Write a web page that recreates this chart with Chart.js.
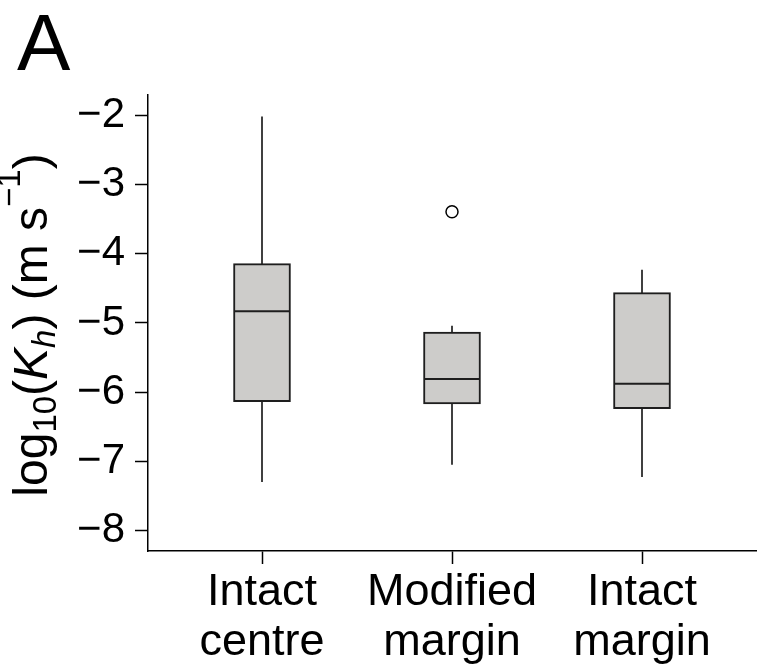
<!DOCTYPE html>
<html>
<head>
<meta charset="utf-8">
<script src="https://cdn.jsdelivr.net/npm/chart.js@4.4.1/dist/chart.umd.min.js"></script>
<style>
  body { margin: 0; background: #fff; }
  #wrap { width: 757px; height: 667px; }
</style>
</head>
<body>
<div id="wrap"><canvas id="chart"></canvas></div>
<script>
// boxplot summary per site, log10 of Kh
const categories    = [['Intact', 'centre'], ['Modified', 'margin'], ['Intact', 'margin']];
const whiskerLow    = [-7.30, -7.05, -7.23];
const lowerQuartile = [-6.14, -6.17, -6.24];
const medians       = [-4.83, -5.81, -5.88];
const upperQuartile = [-4.14, -5.13, -4.56];
const whiskerHigh   = [-2.01, -5.04, -4.23];
const outliers      = [[], [-3.39], []];
const yTicks        = [-2, -3, -4, -5, -6, -7, -8];

const FONT = "'Liberation Sans', Arial, Helvetica, sans-serif";
const ink = '#000';
const boxFill = '#cdccca';
const boxLine = '#1e1e1e';

const xPos = categories.map((c, i) => i + 1);

const whiskerSets = xPos.map((x, i) => ({
  type: 'line',
  data: [{ x: x, y: whiskerLow[i] }, { x: x, y: whiskerHigh[i] }],
  borderColor: ink,
  borderWidth: 1.5,
  pointRadius: 0,
  order: 3
}));

const boxSet = {
  type: 'bar',
  data: xPos.map((x, i) => ({ x: x, y: [lowerQuartile[i], upperQuartile[i]] })),
  backgroundColor: boxFill,
  borderColor: boxLine,
  borderWidth: 2,
  borderSkipped: false,
  barThickness: 57,
  order: 2
};

const medianSet = {
  type: 'line',
  data: xPos.map((x, i) => ({ x: x, y: medians[i] })),
  showLine: false,
  pointStyle: 'line',
  pointRadius: 27,
  pointBorderWidth: 2,
  pointBorderColor: boxLine,
  order: 1
};

const outlierSet = {
  type: 'line',
  data: xPos.flatMap((x, i) => outliers[i].map(v => ({ x: x, y: v }))),
  showLine: false,
  pointStyle: 'circle',
  pointRadius: 6,
  pointBorderWidth: 1.5,
  pointBorderColor: ink,
  pointBackgroundColor: '#fff',
  order: 0
};

// y title with sub/superscripts, plus the panel letter
const annotations = {
  id: 'annotations',
  afterDraw(chart) {
    const ctx = chart.ctx;
    const big = 48, small = 33;
    const runs = [
      { t: 'log', size: big, shift: 0 },
      { t: '10', size: small, shift: 9 },
      { t: '(', size: big, shift: 0 },
      { t: 'K', size: big, shift: 0, italic: true },
      { t: 'h', size: small, shift: 8, italic: true },
      { t: ') (m s', size: big, shift: 0 },
      { t: '\u22121', size: small, shift: -27 },
      { t: ')', size: big, shift: 0 }
    ];
    const fontOf = r => (r.italic ? 'italic ' : '') + r.size + 'px ' + FONT;
    let total = 0;
    runs.forEach(r => { ctx.font = fontOf(r); r.w = ctx.measureText(r.t).width; total += r.w; });

    ctx.save();
    ctx.fillStyle = ink;
    ctx.textBaseline = 'alphabetic';
    ctx.textAlign = 'left';
    ctx.translate(47, 325);
    ctx.rotate(-Math.PI / 2);
    let cx = -total / 2;
    runs.forEach(r => {
      ctx.font = fontOf(r);
      ctx.fillText(r.t, cx, r.shift);
      cx += r.w;
    });
    ctx.restore();

    ctx.save();
    ctx.fillStyle = ink;
    ctx.font = '80px ' + FONT;
    ctx.textBaseline = 'alphabetic';
    ctx.fillText('A', 17, 70);
    ctx.restore();
  }
};

new Chart(document.getElementById('chart'), {
  data: { datasets: [...whiskerSets, boxSet, medianSet, outlierSet] },
  options: {
    responsive: true,
    maintainAspectRatio: false,
    animation: false,
    layout: { autoPadding: false, padding: { top: 95, right: 1, left: 0, bottom: 0 } },
    plugins: { legend: { display: false }, tooltip: { enabled: false } },
    scales: {
      x: {
        type: 'linear',
        offset: false,
        min: 0.4,
        max: 3.6,
        afterBuildTicks: s => { s.ticks = xPos.map(v => ({ value: v })); },
        afterFit: s => { s.height = 116; s.paddingLeft = 0; s.paddingRight = 0; },
        grid: { offset: false, drawOnChartArea: false, tickLength: 13, tickColor: ink, tickWidth: 1.5 },
        border: { display: true, color: ink, width: 1.5 },
        ticks: {
          padding: 4,
          color: ink,
          maxRotation: 0,
          autoSkip: false,
          font: { family: FONT, size: 45, lineHeight: 1.1 },
          callback: v => categories[v - 1]
        }
      },
      y: {
        min: -8.3,
        max: -1.7,
        afterBuildTicks: s => { s.ticks = yTicks.map(v => ({ value: v })); },
        afterFit: s => { s.width = 148; s.paddingTop = 0; s.paddingBottom = 0; },
        grid: { drawOnChartArea: false, tickLength: 13, tickColor: ink, tickWidth: 1.5 },
        border: { display: true, color: ink, width: 1.5 },
        ticks: {
          padding: 10,
          color: ink,
          font: { family: FONT, size: 42 },
          callback: v => '\u2212' + Math.abs(v)
        }
      }
    }
  },
  plugins: [annotations]
});
</script>
</body>
</html>
